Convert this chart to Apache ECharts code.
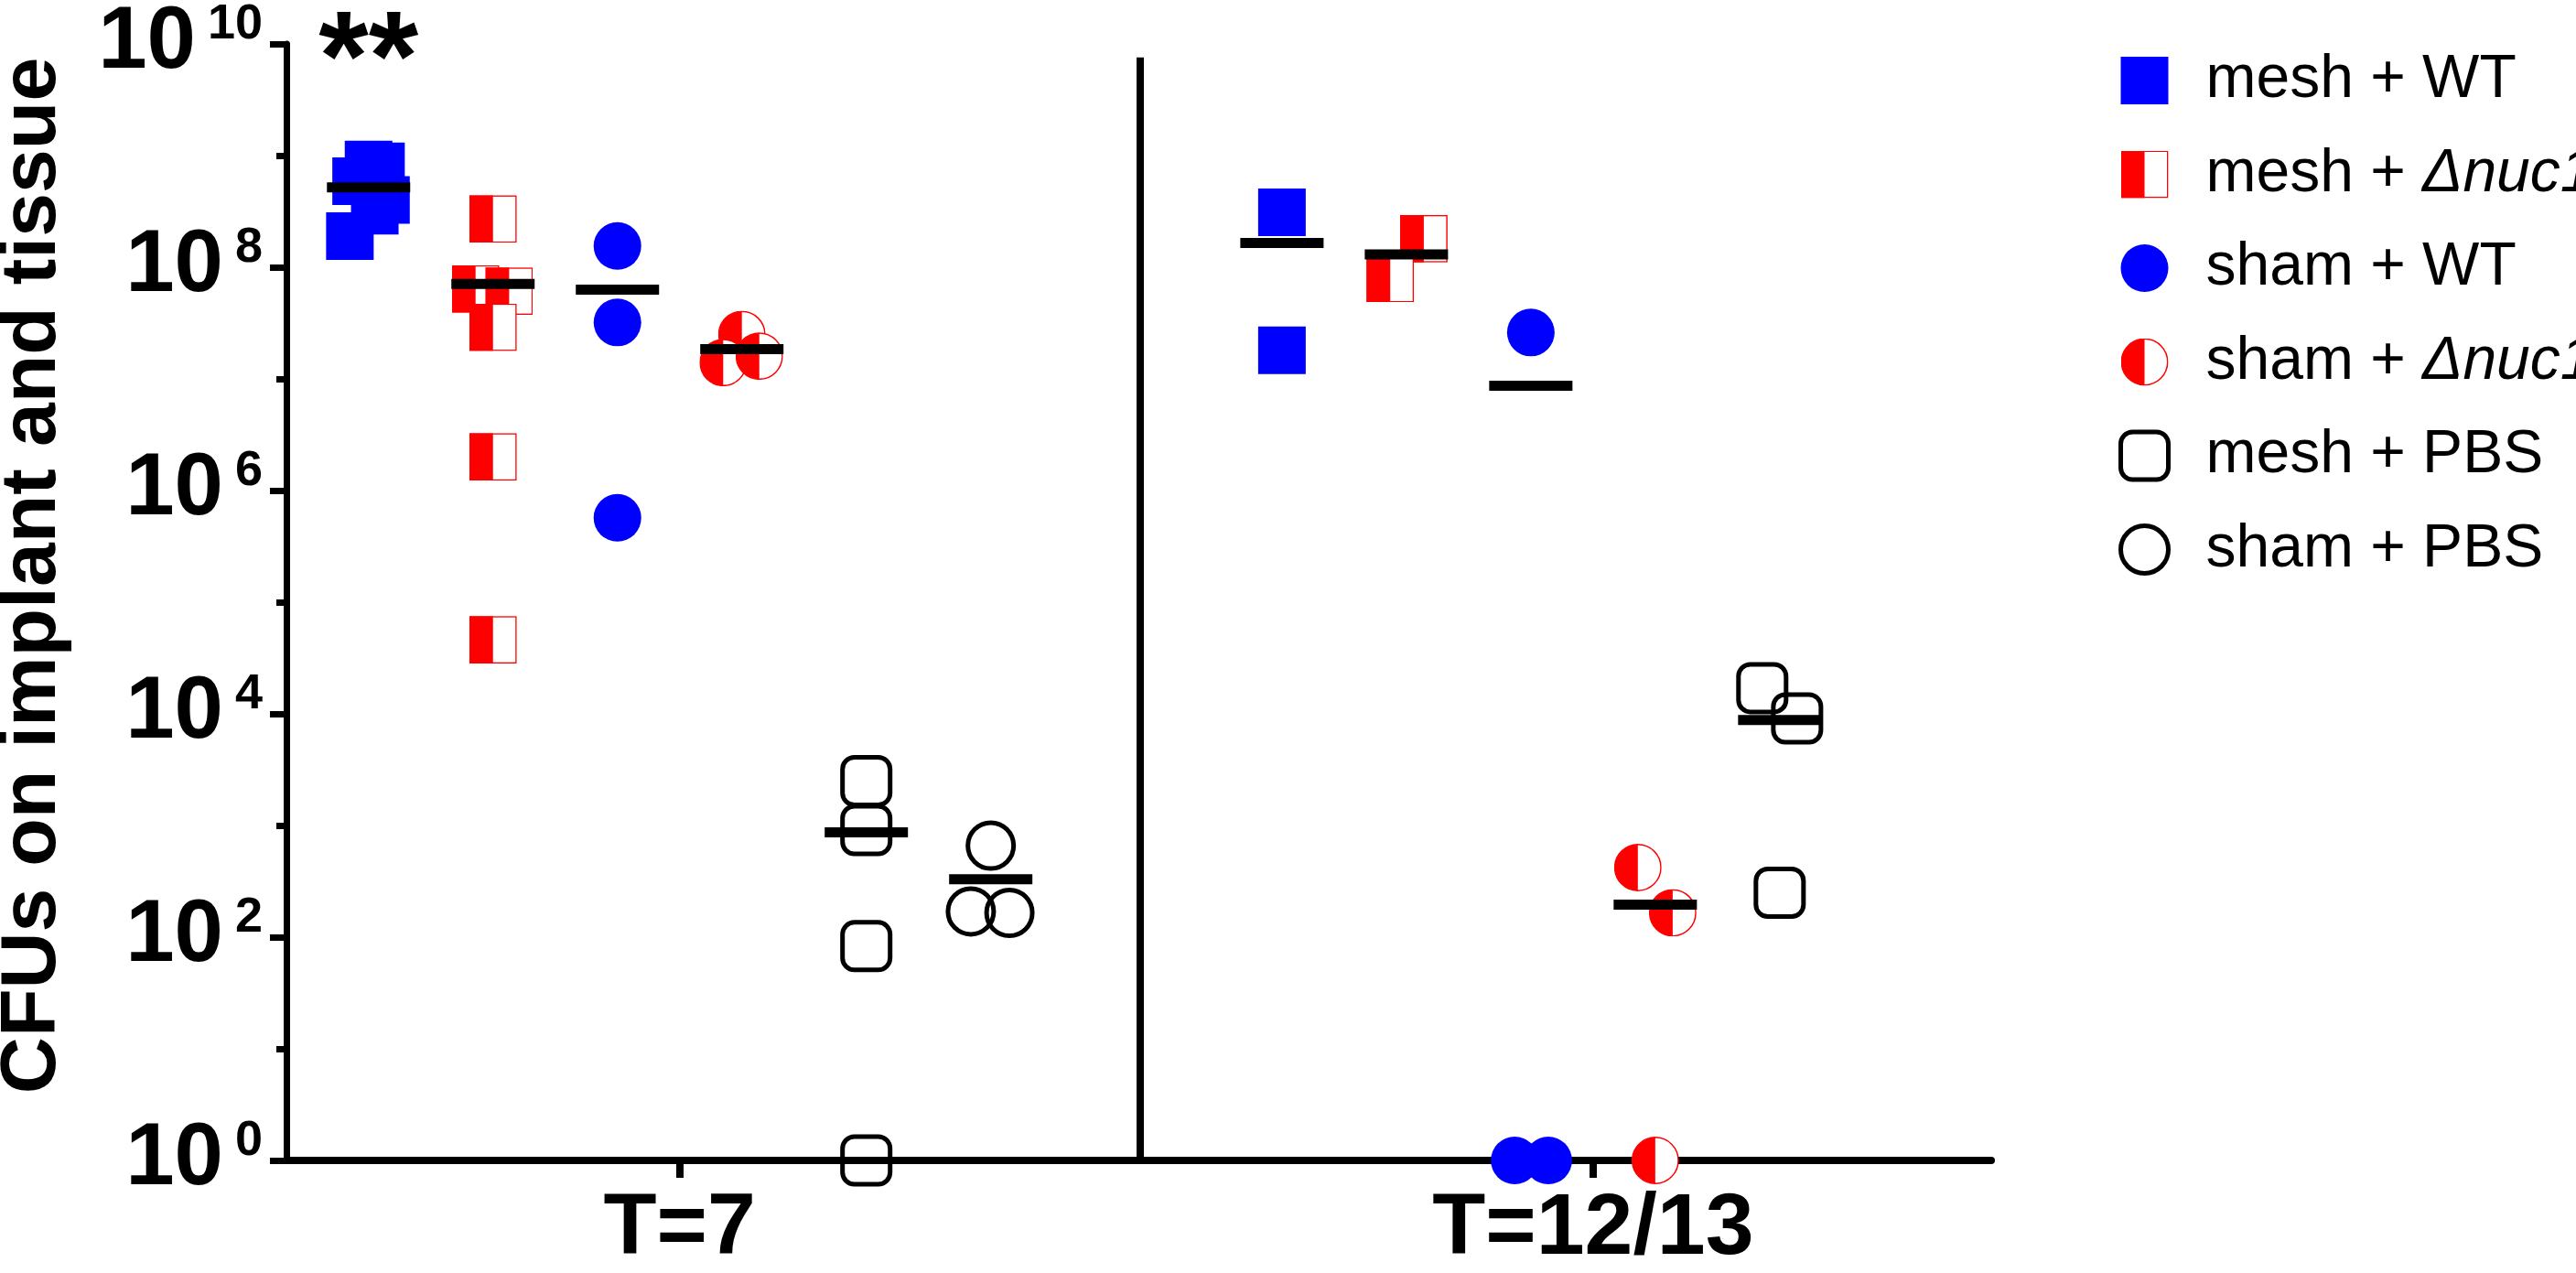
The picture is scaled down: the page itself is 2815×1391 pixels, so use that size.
<!DOCTYPE html>
<html>
<head>
<meta charset="utf-8">
<script src="https://cdn.jsdelivr.net/npm/echarts@6/dist/echarts.min.js"></script>
<style>
  html, body { margin: 0; padding: 0; background: #fff; }
  #chart { width: 2815px; height: 1391px; }
</style>
</head>
<body>
<div id="chart"></div>
<script>
// ---------------- data ----------------
const groups = ['T=7', 'T=12/13'];
const seriesNames = ['mesh + WT', 'mesh + Δnuc1', 'sham + WT', 'sham + Δnuc1', 'mesh + PBS', 'sham + PBS'];
const yTickExponents = [0, 1, 2, 3, 4, 5, 6, 7, 8, 9, 10];
const yLabelExponents = [0, 2, 4, 6, 8, 10];

const meshWT_T7    = [8.3e8, 8.0e8, 5.9e8, 4.0e8, 3.2e8, 1.9e8];
const meshWT_T12   = [3.1e8, 1.8e7];
const meshNuc1_T7  = [2.7e8, 6.4e7, 6.1e7, 2.9e7, 2.0e6, 4.6e4];
const meshNuc1_T12 = [1.8e8, 7.9e7];
const shamWT_T7    = [1.55e8, 3.2e7, 5.7e5];
const shamWT_T12   = [2.6e7, 1, 1];
const shamNuc1_T7  = [2.5e7, 1.4e7, 1.6e7];
const shamNuc1_T12 = [4.2e2, 1.65e2, 1];
const meshPBS_T7   = [2.5e3, 9.1e2, 83, 1];
const meshPBS_T12  = [1.7e4, 9.1e3, 2.5e2];
const shamPBS_T7   = [6.6e2, 1.7e2, 1.65e2];
const shamPBS_T12  = [];

const means_T7  = [5.2e8, 7.1e7, 6.3e7, 1.85e7, 8.7e2, 3.3e2];
const means_T12 = [1.65e8, 1.3e8, 8.7e6, 1.95e2, 8.8e3, null];

const annotationText = '**';   // over mesh + WT at T=7
const annotationValue = 1e10;

// ---------------- layout (scatter spread, axis units = column spacing) ----------------
const jit_meshWT_T7    = [0, 0.1, -0.1, 0.14, 0.05, -0.15];
const jit_meshWT_T12   = [0, 0];
const jit_meshNuc1_T7  = [0, -0.14, 0.13, 0, 0, 0];
const jit_meshNuc1_T12 = [0.14, -0.13];
const jit_shamWT_T7    = [0, 0, 0];
const jit_shamWT_T12   = [0, -0.13, 0.14];
const jit_shamNuc1_T7  = [0, -0.15, 0.14];
const jit_shamNuc1_T12 = [-0.14, 0.14, 0];
const jit_meshPBS_T7   = [0, 0, 0, 0];
const jit_meshPBS_T12  = [-0.14, 0.14, 0];
const jit_shamPBS_T7   = [0, -0.16, 0.15];
const jit_shamPBS_T12  = [];

const groupCenters = [3.16, 10.5];
const colOffsets = [-2.5, -1.5, -0.5, 0.5, 1.5, 2.5];
const xMax = 13.7;
const dividerX = 6.86;
const dividerTop = 7.57e9;

// ---------------- symbols ----------------
function svgUri(s) { return 'image://data:image/svg+xml;charset=utf-8,' + encodeURIComponent(s); }
const halfSquare = svgUri('<svg xmlns="http://www.w3.org/2000/svg" width="208" height="208" viewBox="0 0 52 52"><rect x="0.75" y="0.75" width="50.5" height="50.5" fill="#ffffff" stroke="#ff0000" stroke-width="1.5"/><rect x="0" y="0" width="26" height="52" fill="#ff0000"/></svg>');
const halfCircle = svgUri('<svg xmlns="http://www.w3.org/2000/svg" width="208" height="208" viewBox="0 0 52 52"><circle cx="26" cy="26" r="25.2" fill="#ffffff" stroke="#ff0000" stroke-width="1.5"/><path d="M26 0.8 A25.2 25.2 0 0 0 26 51.2 Z" fill="#ff0000"/></svg>');

const FONT = '"Liberation Sans", Arial, Helvetica, sans-serif';

function pts(col, vals7, jit7, vals12, jit12) {
  const out = [];
  vals7.forEach((v, i) => out.push([groupCenters[0] + colOffsets[col] + jit7[i], v]));
  vals12.forEach((v, i) => out.push([groupCenters[1] + colOffsets[col] + jit12[i], v]));
  return out;
}

const styles = [
  { symbol: 'rect', symbolSize: 52, itemStyle: { color: '#0000ff', opacity: 1 } },
  { symbol: halfSquare, symbolSize: 52, itemStyle: { color: '#ff0000', opacity: 1 } },
  { symbol: 'circle', symbolSize: 52, itemStyle: { color: '#0000ff', opacity: 1 } },
  { symbol: halfCircle, symbolSize: 52, itemStyle: { color: '#ff0000', opacity: 1 } },
  { symbol: 'roundRect', symbolSize: 52, itemStyle: { color: 'rgba(0,0,0,0)', borderColor: '#000', borderWidth: 5, opacity: 1 } },
  { symbol: 'circle', symbolSize: 50, itemStyle: { color: 'rgba(0,0,0,0)', borderColor: '#000', borderWidth: 5, opacity: 1 } }
];

const dataSets = [
  pts(0, meshWT_T7, jit_meshWT_T7, meshWT_T12, jit_meshWT_T12),
  pts(1, meshNuc1_T7, jit_meshNuc1_T7, meshNuc1_T12, jit_meshNuc1_T12),
  pts(2, shamWT_T7, jit_shamWT_T7, shamWT_T12, jit_shamWT_T12),
  pts(3, shamNuc1_T7, jit_shamNuc1_T7, shamNuc1_T12, jit_shamNuc1_T12),
  pts(4, meshPBS_T7, jit_meshPBS_T7, meshPBS_T12, jit_meshPBS_T12),
  pts(5, shamPBS_T7, jit_shamPBS_T7, shamPBS_T12, jit_shamPBS_T12)
];

const series = seriesNames.map((name, i) => Object.assign({
  name: name,
  type: 'scatter',
  xAxisIndex: 0, yAxisIndex: 0,
  data: dataSets[i],
  clip: false,
  emphasis: { disabled: true },
  z: 2
}, styles[i]));

const meanData = [];
means_T7.forEach((m, i) => { if (m != null) meanData.push([groupCenters[0] + colOffsets[i], m]); });
means_T12.forEach((m, i) => { if (m != null) meanData.push([groupCenters[1] + colOffsets[i], m]); });

series.push({
  name: 'mean',
  type: 'scatter',
  data: meanData,
  symbol: 'rect',
  symbolSize: [91, 11],
  itemStyle: { color: '#000', opacity: 1 },
  clip: false,
  z: 5,
  emphasis: { disabled: true },
  markLine: {
    silent: true,
    symbol: 'none',
    label: { show: false },
    lineStyle: { color: '#000', width: 8, type: 'solid', opacity: 1 },
    emphasis: { disabled: true },
    data: [[{ coord: [dividerX, 1] }, { coord: [dividerX, dividerTop] }]]
  }
});

series.push({
  name: 'annotation',
  type: 'scatter',
  data: [[groupCenters[0] + colOffsets[0], annotationValue]],
  symbolSize: 0,
  clip: false,
  z: 6,
  itemStyle: { opacity: 1 },
  label: {
    show: true,
    position: 'inside',
    formatter: annotationText,
    fontSize: 140,
    fontWeight: 'bold',
    fontFamily: FONT,
    color: '#000',
    opacity: 1,
    offset: [0, 22]
  }
});

const legendData = seriesNames.map((n, i) => {
  const d = { name: n };
  if (i >= 4) d.itemStyle = { color: 'rgba(0,0,0,0)', borderColor: '#000', borderWidth: 5, opacity: 1 };
  else d.itemStyle = { opacity: 1 };
  return d;
});

const option = {
  backgroundColor: '#ffffff',
  animation: false,
  grid: { left: 313, right: 639, top: 38, bottom: 113, containLabel: false },
  legend: {
    orient: 'vertical',
    left: 2310,
    top: 50,
    itemWidth: 52,
    itemHeight: 52,
    itemGap: 36.5,
    data: legendData,
    selectedMode: false,
    formatter: n => n.replace('Δnuc1', '{i|Δnuc1}'),
    textStyle: {
      fontSize: 66, fontFamily: FONT, color: '#000', lineHeight: 52,
      padding: [0, 0, 0, 36],
      rich: { i: { fontSize: 66, fontStyle: 'italic', fontFamily: FONT, color: '#000', lineHeight: 52 } }
    }
  },
  graphic: [{
    type: 'text',
    x: 36, y: 629,
    rotation: Math.PI / 2,
    style: {
      text: 'CFUs on implant and tissue',
      font: 'bold 86px ' + FONT,
      fill: '#000',
      align: 'center',
      verticalAlign: 'middle'
    }
  }],
  xAxis: {
    type: 'value',
    min: 0, max: xMax,
    splitLine: { show: false },
    axisLine: { show: true, lineStyle: { color: '#000', width: 8 } },
    axisTick: { show: true, customValues: groupCenters, length: 19, lineStyle: { color: '#000', width: 8 } },
    axisLabel: {
      customValues: groupCenters,
      formatter: v => groups[Math.abs(v - groupCenters[0]) < 0.01 ? 0 : 1],
      fontSize: 95, fontWeight: 'bold', fontFamily: FONT, color: '#000', margin: 28
    }
  },
  yAxis: [{
    type: 'log', logBase: 10, min: 1, max: 1e10,
    position: 'left',
    splitLine: { show: false },
    axisLine: { show: true, lineStyle: { color: '#000', width: 7 } },
    axisTick: { show: true, customValues: yTickExponents.map(e => Math.pow(10, e)), length: 11, lineStyle: { color: '#000', width: 7 } },
    axisLabel: { show: false }
  }, {
    type: 'log', logBase: 10, min: 1, max: 1e10,
    position: 'left',
    splitLine: { show: false },
    axisLine: { show: false },
    axisTick: { show: true, customValues: yLabelExponents.map(e => Math.pow(10, e)), length: 18, lineStyle: { color: '#000', width: 7 } },
    axisLabel: {
      customValues: yLabelExponents.map(e => Math.pow(10, e)),
      margin: 26,
      formatter: v => '{b|10}{s|' + Math.round(Math.log10(v)) + '}',
      rich: {
        b: { fontSize: 96, fontWeight: 'bold', fontFamily: FONT, color: '#000', lineHeight: 96 },
        s: { fontSize: 54, fontWeight: 'bold', fontFamily: FONT, color: '#000', lineHeight: 54, verticalAlign: 'top', padding: [0, 0, 0, 13] }
      }
    }
  }],
  series: series
};

const chart = echarts.init(document.getElementById('chart'), null, { renderer: 'canvas' });
chart.setOption(option);
</script>
</body>
</html>
